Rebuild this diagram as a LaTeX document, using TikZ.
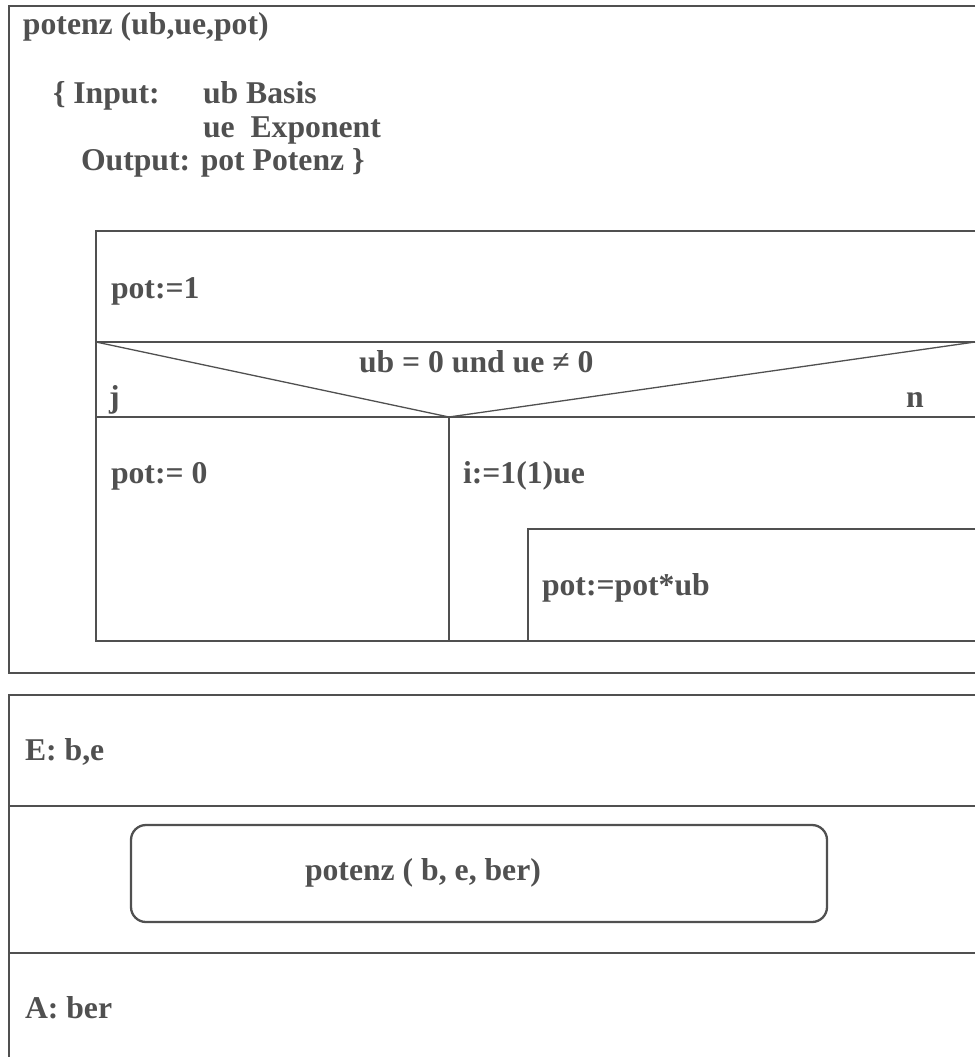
\documentclass[tikz,border=0pt]{standalone}
\usepackage{fontspec}
\setmainfont{Liberation Serif}
\definecolor{ink}{RGB}{80,80,80}
\begin{document}
\begin{tikzpicture}[x=1pt,y=-1pt,
  frame/.style={draw=ink,line width=2.3pt},
  diag/.style={draw=ink,line width=1.3pt},
  txt/.style={anchor=base west,inner sep=0pt,outer sep=0pt,text=ink,font=\fontsize{31.7}{36}\selectfont\bfseries}]
\useasboundingbox (0,0) rectangle (975,1057);
% top outer box
\draw[frame] (975,6) -- (9,6) -- (9,673) -- (975,673);
\node[txt] (title) at (23,35) {potenz (ub,ue,pot)};
\node[txt] (inp) at (53,103) {\{ Input:};
\node[txt] (inp1) at (203,103) {ub Basis};
\node[txt] (inp2) at (203,137) {ue\ \ Exponent};
\node[txt] (outp) at (81,170) {Output: pot Potenz \}};
% inner structogram
\draw[frame] (975,231) -- (96,231) -- (96,641) -- (975,641);
\draw[frame] (96,342) -- (975,342);
\draw[frame] (96,417) -- (975,417);
\draw[diag] (96,342) -- (449,417) -- (975,342);
\draw[frame] (449,417) -- (449,641);
\draw[frame] (975,529) -- (528,529) -- (528,641);
\node[txt] (p1) at (111,298) {pot:=1};
\node[txt] (cond) at (359,372) {ub = 0 und ue ≠ 0};
\node[txt] (yes) at (109,407) {j};
\node[txt] (no) at (906,407) {n};
\node[txt] (p0) at (111,483) {pot:= 0};
\node[txt] (loop) at (463,483) {i:=1(1)ue};
\node[txt] (body) at (542,595) {pot:=pot*ub};
% bottom box
\draw[frame] (975,695) -- (9,695) -- (9,1060);
\draw[frame] (9,806) -- (975,806);
\draw[frame] (9,953) -- (975,953);
\draw[frame,rounded corners=15pt] (131,825) rectangle (827,922);
\node[txt] (inE) at (25,760) {E: b,e};
\node[txt] (call) at (305,880) {potenz ( b, e, ber)};
\node[txt] (outA) at (25,1018) {A: ber};
\end{tikzpicture}
\end{document}
